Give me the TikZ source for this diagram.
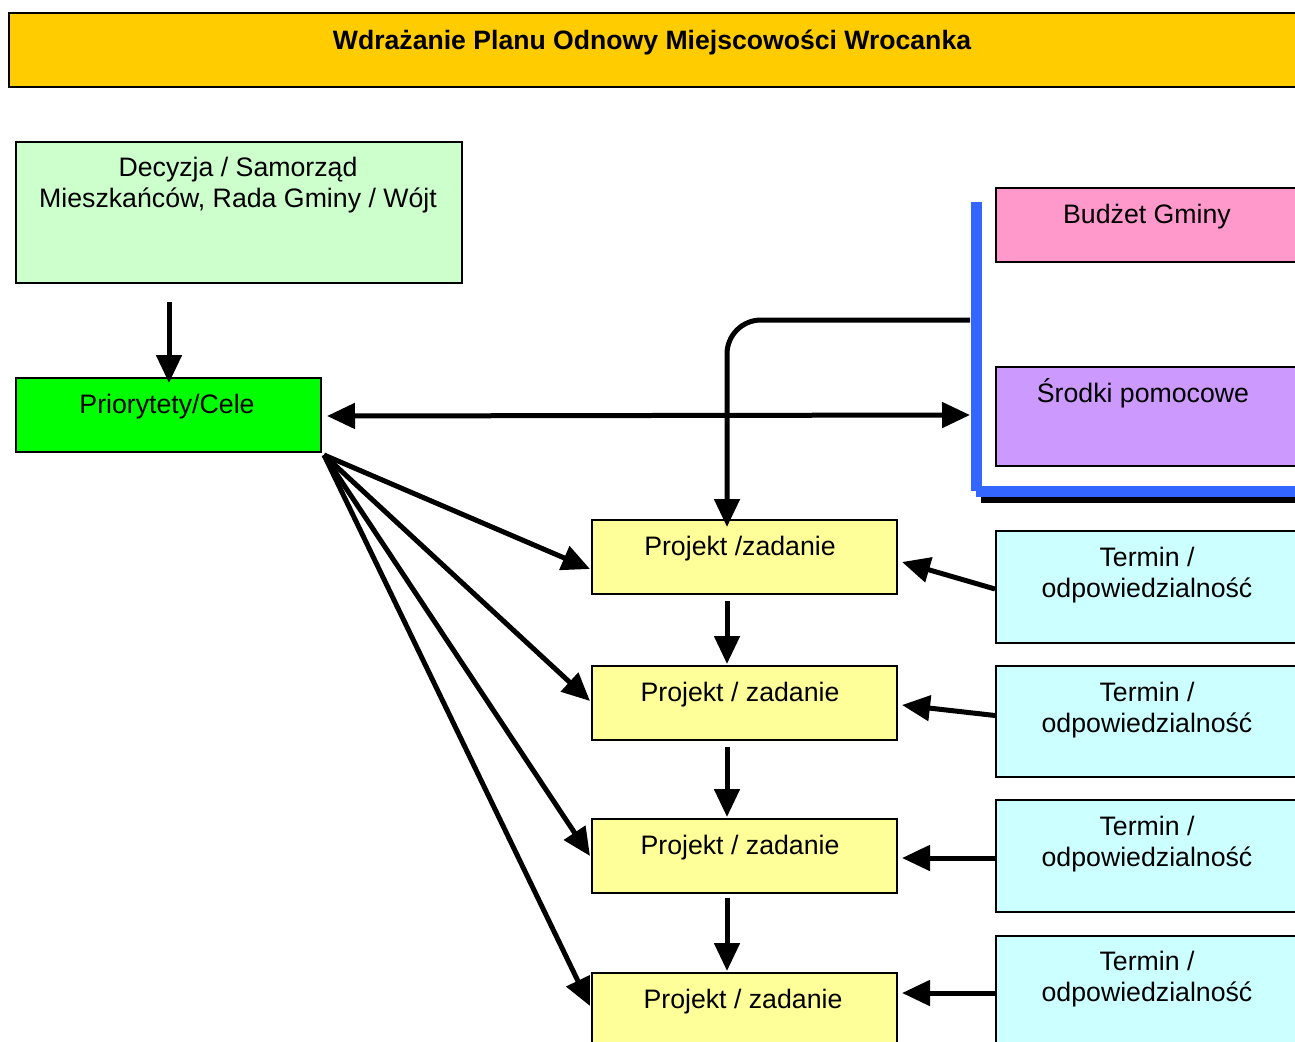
\documentclass[tikz,border=0pt]{standalone}
\usepackage{fontspec}
\setmainfont{Liberation Sans}
\usetikzlibrary{arrows.meta,calc}
\definecolor{titleY}{HTML}{FFCC00}
\definecolor{decG}{HTML}{CCFFCC}
\definecolor{prioG}{HTML}{00FF00}
\definecolor{budP}{HTML}{FF99CC}
\definecolor{srodV}{HTML}{CC99FF}
\definecolor{projY}{HTML}{FFFF99}
\definecolor{termC}{HTML}{CCFFFF}
\definecolor{brkB}{HTML}{3366FF}
\begin{document}
\begin{tikzpicture}[x=1pt,y=-1pt,
  box/.style={draw=black, line width=2pt, inner sep=0pt, anchor=north west},
  txt/.style={anchor=base, align=center, inner sep=0pt, font=\fontsize{26.7}{31}\selectfont},
  ttl/.style={anchor=base, inner sep=0pt, font=\bfseries\fontsize{26.6}{31}\selectfont},
  conn/.style={line width=5pt, -{Triangle[length=28pt,width=25pt]}},
  dconn/.style={line width=5pt, {Triangle[length=28pt,width=25pt]}-{Triangle[length=28pt,width=25pt]}},
]
\useasboundingbox (0,0) rectangle (1295,1041);
% boxes
\node[box, fill=titleY, minimum width=1292pt, minimum height=74pt] (title) at (8,12) {};
\node[box, fill=decG, minimum width=446pt, minimum height=141pt] (dec) at (15,141) {};
\node[box, fill=prioG, minimum width=305pt, minimum height=74pt] (prio) at (15,377) {};
\node[box, fill=budP, minimum width=320pt, minimum height=74pt] (bud) at (995,187) {};
\node[box, fill=srodV, minimum width=320pt, minimum height=99pt] (srod) at (995,366) {};
\node[box, fill=projY, minimum width=305pt, minimum height=74pt] (p1) at (591,519) {};
\node[box, fill=projY, minimum width=305pt, minimum height=74pt] (p2) at (591,665) {};
\node[box, fill=projY, minimum width=305pt, minimum height=74pt] (p3) at (591,818) {};
\node[box, fill=projY, minimum width=305pt, minimum height=74pt] (p4) at (591,972) {};
\node[box, fill=termC, minimum width=320pt, minimum height=112pt] (t1) at (995,530) {};
\node[box, fill=termC, minimum width=320pt, minimum height=111pt] (t2) at (995,665) {};
\node[box, fill=termC, minimum width=320pt, minimum height=112pt] (t3) at (995,799) {};
\node[box, fill=termC, minimum width=320pt, minimum height=112pt] (t4) at (995,935) {};
% texts
\node[ttl] (titletxt) at (652,49) {Wdrażanie Planu Odnowy Miejscowości Wrocanka};
\node[txt] (dectxt) at (238,207) {Decyzja / Samorząd\\Mieszkańców, Rada Gminy / Wójt};
\node[txt] (priotxt) at (167,413) {Priorytety/Cele};
\node[txt] (budtxt) at (1147,223) {Budżet Gminy};
\node[txt] (srodtxt) at (1143,402) {Środki pomocowe};
\node[txt] (p1txt) at (740,555) {Projekt /zadanie};
\node[txt] (p2txt) at (740,701) {Projekt / zadanie};
\node[txt] (p3txt) at (740,854) {Projekt / zadanie};
\node[txt] (p4txt) at (743,1008) {Projekt / zadanie};
\node[txt] (t1txt) at (1147,597) {Termin /\\odpowiedzialność};
\node[txt] (t2txt) at (1147,732) {Termin /\\odpowiedzialność};
\node[txt] (t3txt) at (1147,866) {Termin /\\odpowiedzialność};
\node[txt] (t4txt) at (1147,1001) {Termin /\\odpowiedzialność};
% blue bracket
\coordinate (brk) at (970,320);
\coordinate (brkin) at (970,415);
\draw[black, line width=6pt] (981,500) -- (1300,500);
\draw[brkB, line width=11pt] (976,202) -- (976,491);
\draw[brkB, line width=11pt] (976,491.5) -- (1300,491.5);
% connectors
\draw[conn] ($(dec.south west)+(154,18)$) coordinate (a0) -- ($(a0 |- prio.north)+(0,6)$);
\draw[dconn] ($(prio.east)+(5,1)$) -- (brkin);
\draw[line width=5pt, rounded corners=34pt, -{Triangle[length=28pt,width=25pt]}] (brk) -- (727,320) -- ($(p1.north west)+(136,8)$);
\coordinate (fan) at ($(prio.south east)+(2,2)$);
\draw[conn] (fan) -- ($(p1.west)+(-1,12)$);
\draw[conn] (fan) -- ($(p2.west)+(-1,-2)$);
\draw[conn] (fan) -- ($(p3.west)+(-1,0)$);
\draw[conn] (fan) -- ($(p4.west)+(-1,-4)$);
\draw[conn] ($(p1.south west)+(136,6)$) -- ($(p2.north west)+(136,-1)$);
\draw[conn] ($(p2.south west)+(136,6)$) -- ($(p3.north west)+(136,-1)$);
\draw[conn] ($(p3.south west)+(136,4)$) -- ($(p4.north west)+(136,-1)$);
\draw[conn] ($(t1.west)+(0,2)$) -- ($(p1.east)+(4,5)$);
\draw[conn] ($(t2.west)+(0,-6)$) -- ($(p2.east)+(4,2)$);
\draw[conn] ($(t3.west)+(0,2)$) -- ($(p3.east)+(4,2)$);
\draw[conn] ($(t4.west)+(0,1)$) -- ($(p4.east)+(4,-17)$);
\end{tikzpicture}
\end{document}
